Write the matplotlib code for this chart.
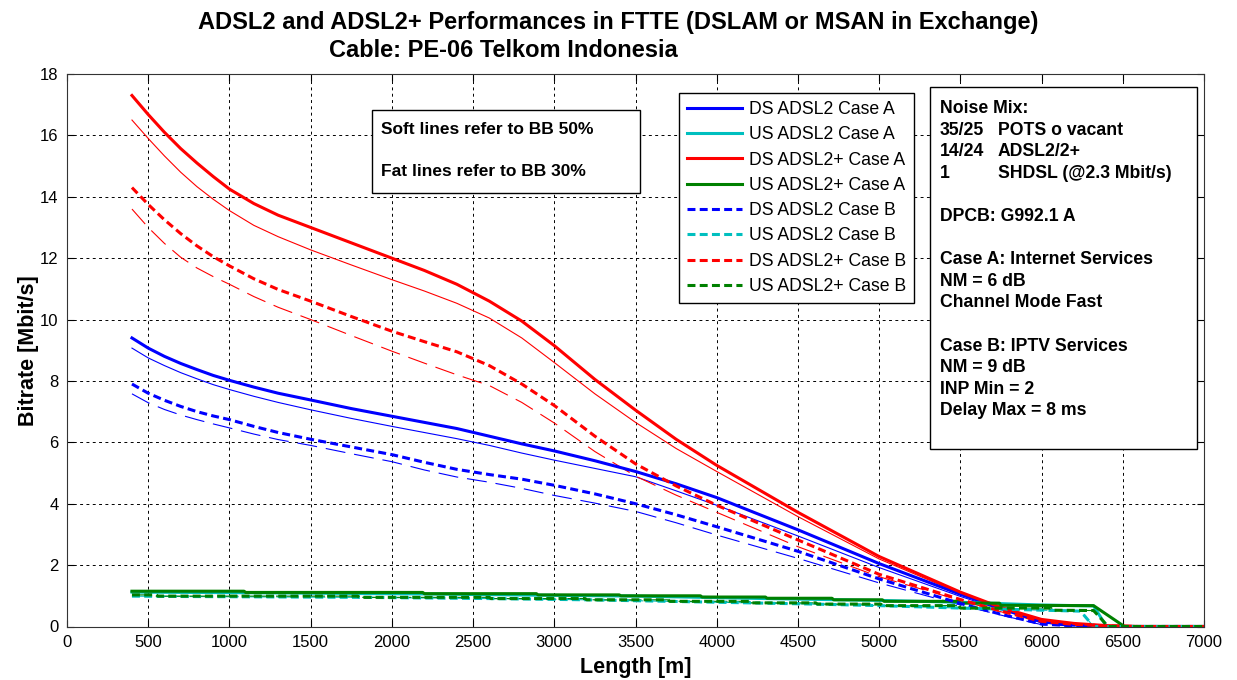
import numpy as np
import matplotlib.pyplot as plt
from matplotlib.patches import Rectangle

plt.rcParams['font.family'] = ['Liberation Sans', 'DejaVu Sans']

# data: bitrate [Mbit/s] vs length [m]
length = [400, 500, 600, 700, 800, 900, 1000, 1150, 1300, 1500, 1750, 2000, 2200, 2400,
          2600, 2800, 3000, 3250, 3500, 3750, 4000, 4500, 5000, 5500, 5750, 6000, 6200,
          6400, 6600, 7000]

# fat lines = BB 30%, soft lines = BB 50%
ds_adsl2_a_30 = [9.4, 9.07, 8.8, 8.57, 8.37, 8.18, 8.02, 7.8, 7.6, 7.38, 7.1, 6.85, 6.65, 6.45,
                 6.2, 5.95, 5.72, 5.4, 5.05, 4.65, 4.2, 3.15, 2.05, 1.05, 0.6, 0.15, 0.05,
                 0, 0, 0]
ds_adsl2_a_50 = [9.07, 8.75, 8.5, 8.27, 8.07, 7.88, 7.72, 7.5, 7.3, 7.06, 6.78, 6.52, 6.32, 6.12,
                 5.9, 5.65, 5.42, 5.15, 4.88, 4.42, 3.95, 2.95, 1.92, 0.98, 0.55, 0.12, 0.04,
                 0, 0, 0]
ds_plus_a_30 = [17.3, 16.68, 16.1, 15.57, 15.1, 14.66, 14.25, 13.78, 13.4, 13.0, 12.5, 12.0, 11.6,
                11.15, 10.6, 9.95, 9.15, 8.05, 7.05, 6.1, 5.25, 3.72, 2.28, 1.12, 0.62, 0.23,
                0.1, 0.03, 0, 0]
ds_plus_a_50 = [16.5, 15.9, 15.33, 14.8, 14.33, 13.92, 13.55, 13.07, 12.7, 12.27, 11.78, 11.3,
                10.93, 10.53, 10.05, 9.4, 8.6, 7.58, 6.65, 5.8, 5.05, 3.58, 2.2, 1.08, 0.6, 0.21,
                0.09, 0.02, 0, 0]
ds_adsl2_b_30 = [7.9, 7.6, 7.37, 7.17, 7.0, 6.86, 6.74, 6.52, 6.32, 6.1, 5.85, 5.6, 5.35, 5.12,
                 4.95, 4.8, 4.6, 4.32, 4.0, 3.64, 3.25, 2.45, 1.55, 0.75, 0.4, 0.08, 0.02,
                 0, 0, 0]
ds_adsl2_b_50 = [7.58, 7.29, 7.07, 6.89, 6.74, 6.6, 6.47, 6.27, 6.09, 5.9, 5.63, 5.37, 5.1, 4.87,
                 4.7, 4.5, 4.27, 4.02, 3.75, 3.38, 2.98, 2.22, 1.42, 0.7, 0.37, 0.06, 0.02,
                 0, 0, 0]
ds_plus_b_30 = [14.3, 13.75, 13.25, 12.8, 12.4, 12.05, 11.75, 11.33, 10.98, 10.6, 10.1, 9.62,
                9.28, 8.95, 8.5, 7.9, 7.2, 6.2, 5.3, 4.58, 3.95, 2.82, 1.7, 0.88, 0.5, 0.17,
                0.07, 0.02, 0, 0]
ds_plus_b_50 = [13.6, 13.0, 12.48, 12.03, 11.68, 11.4, 11.15, 10.75, 10.4, 10.0, 9.48, 8.97,
                8.58, 8.2, 7.85, 7.3, 6.63, 5.7, 4.9, 4.28, 3.72, 2.6, 1.62, 0.85, 0.48, 0.15,
                0.06, 0.01, 0, 0]

# upstream (stepped, same for both BB cases)
us_plus_a_len = [400, 1090, 1100, 2190, 2200, 2890, 2900, 3400, 3410, 3900, 3910, 4300, 4310,
                 4710, 4720, 5020, 5030, 5490, 5500, 5740, 5750, 6320, 6510, 7000]
us_plus_a = [1.15, 1.15, 1.11, 1.11, 1.07, 1.07, 1.03, 1.03, 1.0, 1.0, 0.96, 0.96, 0.92,
             0.92, 0.87, 0.87, 0.82, 0.82, 0.76, 0.76, 0.69, 0.68, 0, 0]
us_plus_b_len = [400, 550, 560, 1790, 1800, 2600, 2610, 3190, 3200, 3700, 3710, 4200, 4210,
                 4610, 4620, 5010, 5020, 5490, 5500, 6060, 6070, 6320, 6410, 7000]
us_plus_b = [1.03, 1.03, 0.99, 0.99, 0.95, 0.95, 0.91, 0.91, 0.87, 0.87, 0.82, 0.82, 0.77,
             0.77, 0.73, 0.73, 0.68, 0.68, 0.6, 0.6, 0.53, 0.52, 0, 0]
us_adsl2_a_len = [400, 1100, 2200, 2900, 3500, 4300, 5000, 5500, 6000, 6320, 6400, 7000]
us_adsl2_a = [1.12, 1.1, 1.06, 1.02, 0.99, 0.91, 0.85, 0.79, 0.7, 0.67, 0, 0]
us_adsl2_b_len = [400, 600, 1800, 2600, 3200, 3700, 4200, 4600, 5000, 5500, 6240, 6320, 7000]
us_adsl2_b = [0.99, 0.98, 0.95, 0.91, 0.87, 0.82, 0.77, 0.73, 0.68, 0.6, 0.5, 0, 0]

labels = ['DS ADSL2 Case A', 'US ADSL2 Case A', 'DS ADSL2+ Case A', 'US ADSL2+ Case A',
          'DS ADSL2 Case B', 'US ADSL2 Case B', 'DS ADSL2+ Case B', 'US ADSL2+ Case B']

info_left = ['Noise Mix:', '35/25', '14/24', '1', '', 'DPCB: G992.1 A', '',
             'Case A: Internet Services', 'NM = 6 dB', 'Channel Mode Fast', '',
             'Case B: IPTV Services', 'NM = 9 dB', 'INP Min = 2', 'Delay Max = 8 ms']
info_right = ['', 'POTS o vacant', 'ADSL2/2+', 'SHDSL (@2.3 Mbit/s)', '', '', '',
              '', '', '', '', '', '', '', '']
note_lines = ['Soft lines refer to BB 50%', 'Fat lines refer to BB 30%']

# series: (x, fat, soft, colour, dashed)
series = [
    (length, ds_adsl2_a_30, ds_adsl2_a_50, 'blue', False),
    (us_adsl2_a_len, us_adsl2_a, us_adsl2_a, (0, 0.75, 0.75), False),
    (length, ds_plus_a_30, ds_plus_a_50, 'red', False),
    (us_plus_a_len, us_plus_a, us_plus_a, (0, 0.5, 0), False),
    (length, ds_adsl2_b_30, ds_adsl2_b_50, 'blue', True),
    (us_adsl2_b_len, us_adsl2_b, us_adsl2_b, (0, 0.75, 0.75), True),
    (length, ds_plus_b_30, ds_plus_b_50, 'red', True),
    (us_plus_b_len, us_plus_b, us_plus_b, (0, 0.5, 0), True),
]

W, H = 1237, 680


def fx(px):
    return px / W


def fy(py):
    return 1 - py / H


fig = plt.figure(figsize=(W / 100, H / 100), dpi=100)
ax = fig.add_axes([fx(67), fy(626.5), (1204 - 67) / W, (626.5 - 74) / H])

# soft lines first, fat lines on top
for x, fat, soft, col, dashed in series:
    ln, = ax.plot(x, soft, color=col, lw=0.8)
    if dashed:
        ln.set_dashes((18, 8))
for (x, fat, soft, col, dashed), lab in zip(series, labels):
    ln, = ax.plot(x, fat, color=col, lw=2.2, label=lab)
    if dashed:
        ln.set_dashes((2.6, 1.4))

ax.set_xlim(0, 7000)
ax.set_ylim(0, 18)
ax.set_xticks(np.arange(0, 7001, 500))
ax.set_yticks(np.arange(0, 19, 2))
ax.grid(True, color='k', linestyle=(0, (3, 3.5)), linewidth=0.7)
ax.set_axisbelow(True)
ax.tick_params(direction='in', top=True, right=True, length=5, width=0.8,
               labelsize=12, pad=6)
for sp in ax.spines.values():
    sp.set_color('#333333')
ax.set_xlabel('Length [m]', fontsize=15.5, fontweight='bold', labelpad=5)
ax.set_ylabel('Bitrate [Mbit/s]', fontsize=15.5, fontweight='bold', labelpad=1)

# title
fig.text(fx(198), fy(29), 'ADSL2 and ADSL2+ Performances in FTTE (DSLAM or MSAN in Exchange)',
         fontsize=17, fontweight='bold', ha='left', va='baseline')
fig.text(fx(329), fy(57), 'Cable: PE-06 Telkom Indonesia',
         fontsize=17, fontweight='bold', ha='left', va='baseline')

# legend
leg = ax.legend(loc='upper left', bbox_to_anchor=(fx(679), fy(93)),
                bbox_transform=fig.transFigure, fontsize=12.7, frameon=True,
                fancybox=False, framealpha=1, edgecolor='k', borderaxespad=0,
                borderpad=0.45, labelspacing=0.47, handlelength=3.1, handletextpad=0.4)
leg.get_frame().set_linewidth(1.0)

# note box
fig.patches.append(Rectangle((fx(372), fy(193)), (640 - 372) / W, (193 - 110) / H,
                             transform=fig.transFigure, facecolor='white',
                             edgecolor='k', lw=1.0, zorder=3))
for i, t in enumerate(note_lines):
    fig.text(fx(381), fy(134.5 + i * 41.7), t, fontsize=12.5, fontweight='bold',
             ha='left', va='baseline', zorder=4)

# info box
fig.patches.append(Rectangle((fx(930), fy(449)), (1197 - 930) / W, (449 - 87) / H,
                             transform=fig.transFigure, facecolor='white',
                             edgecolor='k', lw=1.0, zorder=3))
for i, (a, b) in enumerate(zip(info_left, info_right)):
    yb = 113 + i * 21.6
    fig.text(fx(939.5), fy(yb), a, fontsize=12.7, fontweight='bold',
             ha='left', va='baseline', zorder=4)
    fig.text(fx(998), fy(yb), b, fontsize=12.7, fontweight='bold',
             ha='left', va='baseline', zorder=4)

fig.savefig('out.png', dpi=100)
